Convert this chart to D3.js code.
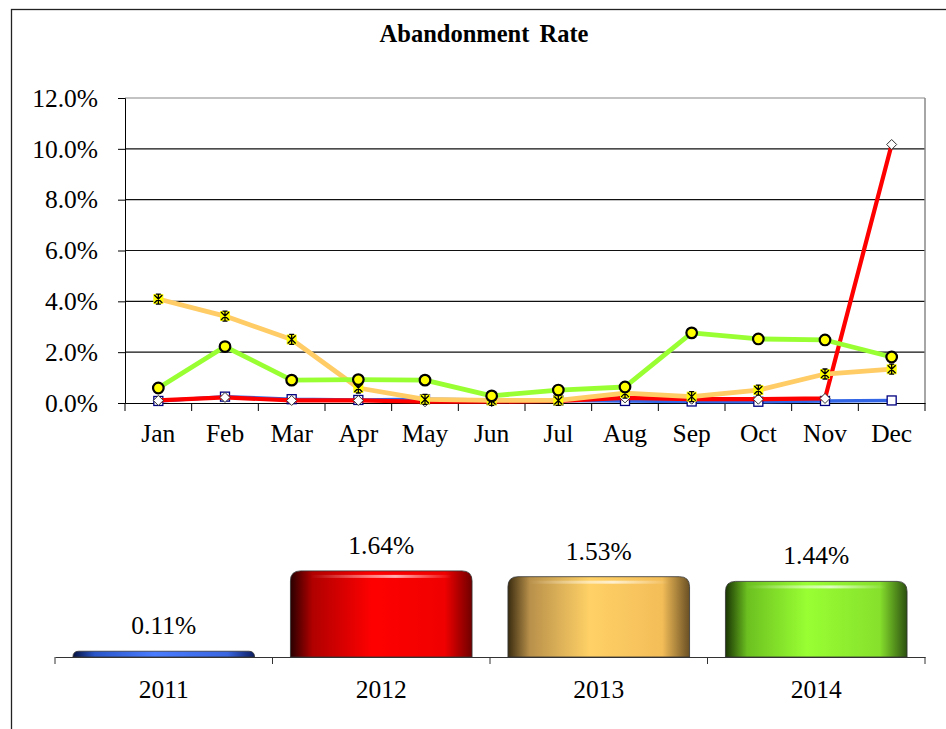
<!DOCTYPE html>
<html>
<head>
<meta charset="utf-8">
<script src="https://cdn.jsdelivr.net/npm/d3@7"></script>
<style>
  body { margin: 0; background: #fff; }
  svg { display: block; font-family: "Liberation Serif", "Times New Roman", serif; }
</style>
</head>
<body>
<svg id="chart" width="946" height="729"></svg>
<script>
// data
const months = ["Jan","Feb","Mar","Apr","May","Jun","Jul","Aug","Sep","Oct","Nov","Dec"];
const years = ["2011","2012","2013","2014"];
const rate2011 = [0.08,0.25,0.15,0.12,0.15,0.12,0.10,0.08,0.06,0.05,0.08,0.10];
const rate2012 = [0.10,0.22,0.10,0.10,0.05,0.05,0.08,0.20,0.15,0.15,0.18,10.17];
const rate2013 = [4.09,3.42,2.50,0.59,0.14,0.10,0.10,0.39,0.25,0.51,1.14,1.33];
const rate2014 = [0.59,2.22,0.90,0.92,0.90,0.28,0.51,0.63,2.76,2.52,2.48,1.81];
const yearAvg = [0.11,1.64,1.53,1.44];
const yTicks = [0,2,4,6,8,10,12];

const series = [
  {name:"2011", values: rate2011, color:"#3366e6", width:3.5, marker:"square"},
  {name:"2012", values: rate2012, color:"#ff0000", width:4.2, marker:"diamond"},
  {name:"2013", values: rate2013, color:"#ffcc66", width:4.8, marker:"star"},
  {name:"2014", values: rate2014, color:"#99ff33", width:4.8, marker:"circle"}
];
const barColors = [
  ["#061240","#2a55c8","#4a7cff","#3a66e0","#0c1c60"],
  ["#2a0000","#b00000","#ff0000","#f00000","#700000"],
  ["#3a2c10","#b8904a","#ffd166","#f3bd58","#6a5024"],
  ["#1a3504","#6cc020","#99ff33","#86e02c","#2c5010"]
];

const svg = d3.select("#chart");

// outer frame (runs past the picture edge)
svg.append("rect")
  .attr("x",11.5).attr("y",9.5).attr("width",980).attr("height",780)
  .attr("fill","none").attr("stroke","#222").attr("stroke-width",1.3);

svg.append("text")
  .attr("x",484).attr("y",42)
  .attr("text-anchor","middle")
  .attr("font-weight","bold").attr("font-size",24.5).attr("word-spacing",4)
  .text("Abandonment Rate");

// ---- line chart ----
const x = d3.scaleBand().domain(months).range([125,925]);
const y = d3.scaleLinear().domain([0,12]).range([403,98]);

const gl = svg.append("g");

gl.selectAll(".grid").data(yTicks.slice(1))
  .enter().append("line")
  .attr("x1",125).attr("x2",925)
  .attr("y1",d => y(d)).attr("y2",d => y(d))
  .attr("stroke", d => d==12 ? "#888" : "#111").attr("stroke-width",1.2);

gl.append("line").attr("x1",925).attr("x2",925).attr("y1",y(12)).attr("y2",y(0))
  .attr("stroke","#888").attr("stroke-width",1.5);

const yAxis = gl.append("g").attr("transform","translate(125,0)")
  .call(d3.axisLeft(y).tickValues(yTicks).tickSize(7).tickPadding(20).tickFormat(d => d.toFixed(1) + "%"));
yAxis.select(".domain").attr("stroke","#000");
yAxis.selectAll("text").attr("font-size",25.5).attr("font-family","Liberation Serif").attr("fill","#000");

const xAxis = gl.append("g").attr("transform","translate(0,403)")
  .call(d3.axisBottom(x).tickSize(0).tickPadding(21));
xAxis.select(".domain").attr("stroke","#000").attr("stroke-width",1.2);
xAxis.selectAll("text").attr("font-size",25.5).attr("font-family","Liberation Serif").attr("fill","#000");
gl.selectAll(".xtick").data(months.concat(["end"]))
  .enter().append("line")
  .attr("x1",(d,i) => 125 + i*x.step()).attr("x2",(d,i) => 125 + i*x.step())
  .attr("y1",403).attr("y2",411).attr("stroke","#000");

const cx = d => x(d) + x.bandwidth()/2;
const line = d3.line().x((v,i) => cx(months[i])).y(v => y(v));

series.forEach(s => {
  const g = gl.append("g");
  g.append("path").datum(s.values)
    .attr("d",line).attr("fill","none")
    .attr("stroke",s.color).attr("stroke-width",s.width)
    .attr("stroke-linejoin","round");
  const m = g.selectAll(".m").data(s.values).enter().append("g")
    .attr("transform",(v,i) => `translate(${cx(months[i])},${y(v)})`);
  if (s.marker == "square") {
    m.append("rect").attr("x",-4.5).attr("y",-4.5).attr("width",9).attr("height",9)
      .attr("fill","#fff").attr("stroke","#000080").attr("stroke-width",1.3);
  } else if (s.marker == "diamond") {
    m.append("path").attr("d","M0,-5L5,0L0,5L-5,0Z")
      .attr("fill","#fff").attr("stroke","#333").attr("stroke-width",1);
  } else if (s.marker == "star") {
    m.append("rect").attr("x",-5).attr("y",-5).attr("width",10).attr("height",10)
      .attr("fill","#ffff00");
    m.append("path").attr("d","M-4,-4L4,4M4,-4L-4,4M0,-5L0,5M-2.5,-5L2.5,-5M-2.5,5L2.5,5")
      .attr("stroke","#000").attr("stroke-width",1.3).attr("fill","none");
  } else {
    m.append("circle").attr("r",5.3)
      .attr("fill","#ffff00").attr("stroke","#000").attr("stroke-width",2.2);
  }
});

// ---- yearly bars ----
const xb = d3.scaleBand().domain(years).range([55,925]).paddingInner(0.165).paddingOuter(0.0825);
const yb = d3.scaleLinear().domain([0,2]).range([657,552]);

const defs = svg.append("defs");
years.forEach((yr,i) => {
  const grad = defs.append("linearGradient").attr("id","bar"+yr)
    .attr("x1","0").attr("x2","1").attr("y1","0").attr("y2","0");
  [0,0.12,0.45,0.85,1].forEach((o,j) => {
    grad.append("stop").attr("offset",o).attr("stop-color",barColors[i][j]);
  });
});
const hl = defs.append("linearGradient").attr("id","hilite")
  .attr("x1","0").attr("x2","1").attr("y1","0").attr("y2","0");
hl.append("stop").attr("offset",0).attr("stop-color","#fff").attr("stop-opacity",0);
hl.append("stop").attr("offset",0.6).attr("stop-color","#fff").attr("stop-opacity",0.7);
hl.append("stop").attr("offset",1).attr("stop-color","#fff").attr("stop-opacity",0);

function barPath(x0, w, top, bottom) {
  const r = Math.min(10, (bottom - top));
  return `M${x0},${bottom}L${x0},${top + r}Q${x0},${top} ${x0 + r},${top}` +
         `L${x0 + w - r},${top}Q${x0 + w},${top} ${x0 + w},${top + r}L${x0 + w},${bottom}Z`;
}

const gb = svg.append("g");
gb.selectAll(".bar").data(yearAvg).enter().append("path")
  .attr("d",(v,i) => barPath(xb(years[i]), xb.bandwidth(), yb(v), yb(0)))
  .attr("fill",(v,i) => `url(#bar${years[i]})`)
  .attr("stroke","#333").attr("stroke-width",0.8);
gb.selectAll(".hl").data(yearAvg).enter().append("rect")
  .filter(v => v > 0.5)
  .attr("x",(v,i) => xb(years[yearAvg.indexOf(v)]) + 20)
  .attr("y",v => yb(v) + 4)
  .attr("width",xb.bandwidth() - 40).attr("height",3)
  .attr("fill","url(#hilite)");

gb.selectAll(".val").data(yearAvg).enter().append("text")
  .attr("x",(v,i) => xb(years[i]) + xb.bandwidth()/2)
  .attr("y",v => yb(v) - 17)
  .attr("text-anchor","middle").attr("font-size",25.5)
  .text(v => v.toFixed(2) + "%");

const bAxis = gb.append("g").attr("transform","translate(0,657)")
  .call(d3.axisBottom(xb).tickSize(0).tickPadding(23));
bAxis.select(".domain").attr("stroke","#333").attr("stroke-width",1.2);
bAxis.selectAll("text").attr("font-size",25.5).attr("font-family","Liberation Serif").attr("fill","#000");
gb.selectAll(".btick").data(years.concat(["end"])).enter().append("line")
  .attr("x1",(d,i) => 55 + i*xb.step()).attr("x2",(d,i) => 55 + i*xb.step())
  .attr("y1",657).attr("y2",664).attr("stroke","#333");
</script>
</body>
</html>
